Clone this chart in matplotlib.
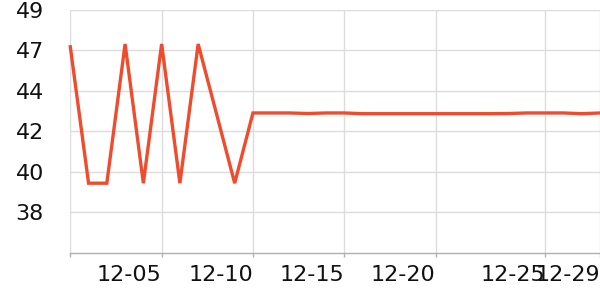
import matplotlib
matplotlib.use("Agg")
import matplotlib.pyplot as plt
import numpy as np

# data (one value per day)
values = [47.00, 39.58, 39.58, 47.15, 39.58, 47.15, 39.58, 47.15, 43.37, 39.58,
          43.40, 43.40, 43.40, 43.37, 43.40, 43.40, 43.36, 43.36, 43.36, 43.36,
          43.36, 43.36, 43.36, 43.36, 43.37, 43.40, 43.40, 43.40, 43.36, 43.40]
x_tick_pos = [0, 5, 10, 15, 20, 26, 29]
x_tick_labels = ["", "12-05", "12-10", "12-15", "12-20", "12-25", "12-29"]
y_tick_labels = ["38", "40", "42", "44", "47", "49"]
y_min, y_max = 35.8, 49.0

fig = plt.figure(figsize=(6, 3), dpi=100)
ax = fig.add_axes([70.3 / 600, 1 - 252.7 / 300, (600 - 70.3) / 600, (252.7 - 10) / 300])

x = np.arange(len(values))
ax.plot(x, values, color="#f04b2c", lw=2.4, solid_joinstyle="miter", clip_on=False, zorder=3)

ax.set_xlim(0, len(values) - 1)
ax.set_ylim(y_min, y_max)
yt = np.linspace(y_min, y_max, 7)[1:]
ax.set_yticks(yt)
ax.set_yticklabels(y_tick_labels)
ax.set_xticks(x_tick_pos)
ax.set_xticklabels(x_tick_labels, ha="right")

for s in ["top", "right", "left"]:
    ax.spines[s].set_visible(False)
ax.spines["bottom"].set_color("#b0b0b0")
ax.spines["bottom"].set_linewidth(1.0)

ax.grid(True, color="#dcdcdc", lw=1.0)
ax.set_axisbelow(True)
ax.tick_params(axis="y", length=0, pad=19, labelsize=16, labelcolor="#111111")
ax.tick_params(axis="x", length=3, width=1, color="#b0b0b0", pad=6, labelsize=16,
               labelcolor="#111111")

fig.savefig("out.png", dpi=100)
